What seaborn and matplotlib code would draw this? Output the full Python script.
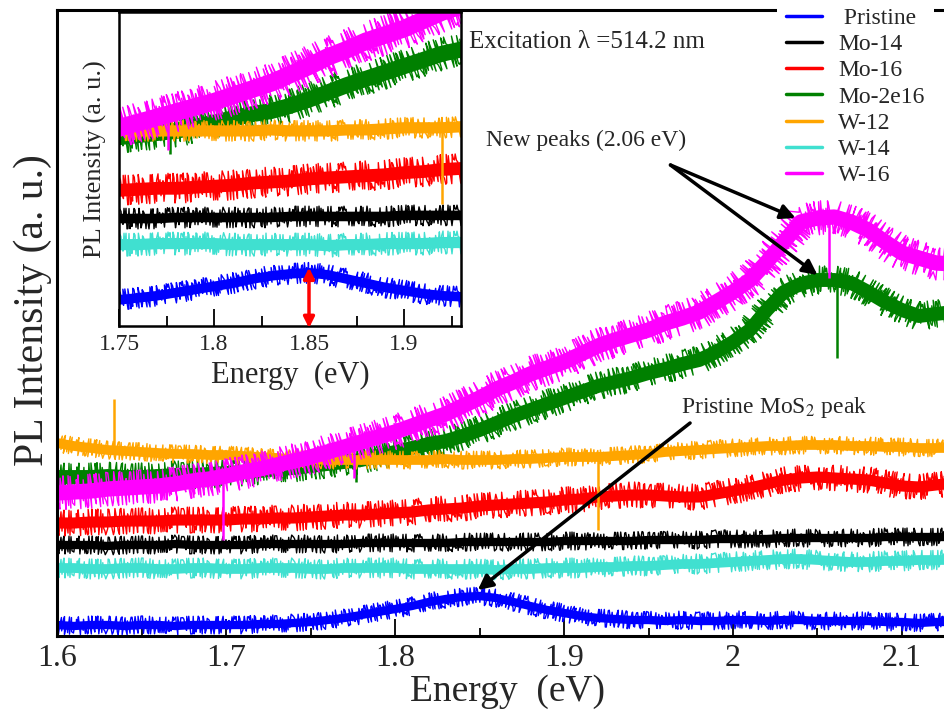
import matplotlib
matplotlib.use("Agg")
import matplotlib.pyplot as plt
import numpy as np
import pandas as pd
import seaborn as sns
from matplotlib.lines import Line2D
from matplotlib.ticker import MultipleLocator, FormatStrFormatter

# photon energy (eV), read every 0.01 eV off the picture
energy = [1.60, 1.61, 1.62, 1.63, 1.64, 1.65, 1.66, 1.67, 1.68, 1.69,
          1.70, 1.71, 1.72, 1.73, 1.74, 1.75, 1.76, 1.77, 1.78, 1.79,
          1.80, 1.81, 1.82, 1.83, 1.84, 1.85, 1.86, 1.87, 1.88, 1.89,
          1.90, 1.91, 1.92, 1.93, 1.94, 1.95, 1.96, 1.97, 1.98, 1.99,
          2.00, 2.01, 2.02, 2.03, 2.04, 2.05, 2.06, 2.07, 2.08, 2.09,
          2.10, 2.11, 2.12, 2.13]

# stacked PL intensity (a.u.), centre of each noisy trace
pristine = [11, 10, 11, 11, 10, 11, 11, 10, 11, 11,
            11, 11, 12, 12, 13, 14, 16, 18, 21, 24,
            27, 30, 34, 37, 39, 40, 38, 34, 30, 26,
            23, 20, 18, 17, 16, 16, 15, 16, 15, 15,
            16, 16, 15, 16, 16, 15, 15, 15, 15, 14,
            14, 13, 14, 14]
mo14 = [91, 91, 91, 90, 91, 91, 91, 92, 91, 91,
        91, 91, 92, 92, 92, 92, 92, 92, 93, 93,
        93, 93, 93, 93, 94, 94, 94, 94, 94, 94,
        95, 95, 95, 95, 95, 96, 96, 96, 96, 97,
        97, 97, 97, 98, 98, 98, 98, 98, 98, 99,
        99, 99, 99, 99]
mo16 = [113, 113, 114, 114, 115, 115, 115, 116, 116, 116,
        116, 117, 117, 118, 118, 119, 120, 121, 121, 122,
        123, 124, 126, 127, 128, 130, 131, 132, 133, 134,
        136, 137, 139, 140, 141, 141, 140, 139, 139, 142,
        145, 148, 152, 156, 158, 159, 158, 157, 156, 153,
        150, 149, 151, 153]
mo2e16 = [159, 159, 159, 160, 159, 159, 160, 161, 161, 162,
          163, 164, 165, 167, 168, 170, 172, 174, 176, 180,
          184, 188, 192, 195, 200, 206, 213, 220, 226, 232,
          238, 244, 250, 254, 258, 263, 267, 272, 276, 284,
          294, 306, 326, 344, 352, 356, 356, 353, 344, 334,
          326, 320, 322, 324]
w12 = [193, 190, 188, 186, 185, 184, 183, 182, 182, 181,
       181, 180, 179, 178, 177, 177, 176, 176, 176, 176,
       176, 176, 176, 177, 176, 176, 176, 177, 177, 178,
       179, 179, 179, 180, 181, 182, 184, 185, 186, 187,
       188, 189, 190, 190, 191, 191, 191, 190, 190, 189,
       189, 188, 188, 188]
w14 = [68, 68, 67, 67, 68, 68, 67, 67, 68, 68,
       67, 67, 68, 68, 68, 67, 67, 68, 68, 68,
       68, 67, 67, 67, 67, 67, 66, 67, 67, 68,
       68, 68, 69, 69, 70, 70, 71, 72, 72, 73,
       74, 75, 76, 77, 77, 76, 75, 74, 74, 75,
       75, 76, 76, 76]
w16 = [143, 144, 145, 147, 148, 149, 150, 152, 155, 157,
       160, 164, 167, 171, 175, 179, 184, 189, 194, 199,
       204, 210, 216, 222, 230, 238, 247, 254, 262, 268,
       274, 282, 290, 296, 301, 306, 313, 318, 324, 334,
       344, 356, 374, 394, 414, 418, 419, 414, 406, 394,
       383, 378, 373, 372]

samples = ['Pristine', 'Mo-14', 'Mo-16', 'Mo-2e16', 'W-12', 'W-14', 'W-16']
series = [pristine, mo14, mo16, mo2e16, w12, w14, w16]

# single-channel glitches seen in the traces
spike_sample = ['W-12', 'W-16', 'W-16', 'Mo-2e16', 'W-12', 'Mo-2e16', 'W-16']
spike_energy = [1.634, 1.698, 1.776, 1.777, 1.920, 2.0615, 2.057]
spike_level = [237, 96, 158, 154, 106, 278, 358]

colors = {'Pristine': '#0000ff', 'Mo-14': '#000000', 'Mo-16': '#ff0000',
          'Mo-2e16': '#008000', 'W-12': '#ffa500', 'W-14': '#40e0d0',
          'W-16': '#ff00ff'}
# solid core width (pt) and half-width of the noise band (px)
core = {'Pristine': 6, 'Mo-14': 6, 'Mo-16': 8, 'Mo-2e16': 10,
        'W-12': 7, 'W-14': 7, 'W-16': 11}
noise = {'Pristine': 9, 'Mo-14': 9, 'Mo-16': 13, 'Mo-2e16': 14,
         'W-12': 9, 'W-14': 10, 'W-16': 17}

df = pd.concat([pd.DataFrame({'energy': energy, 'intensity': s, 'sample': n})
                for n, s in zip(samples, series)], ignore_index=True)

sns.set_style('white')
plt.rcParams['font.family'] = ['Liberation Serif', 'DejaVu Serif']
plt.rcParams['mathtext.fontset'] = 'stix'


def draw_traces(ax, scale):
    for name in samples:
        d = df[df['sample'] == name]
        sns.lineplot(data=d, x='energy', y='intensity', color=colors[name],
                     lw=core[name] * scale, ax=ax, estimator=None, sort=False,
                     legend=False, solid_joinstyle='round')
        # jagged edge of the detector noise
        sns.lineplot(data=d, x='energy', y='intensity', color=colors[name],
                     lw=1.0, ax=ax, estimator=None, sort=False, legend=False)
        ax.lines[-1].set_sketch_params(noise[name] * scale, 2, 4)
        for sn, e, lv in zip(spike_sample, spike_energy, spike_level):
            if sn == name:
                base = np.interp(e, d['energy'], d['intensity'])
                ax.vlines(e, lv, base, color=colors[name], lw=1.8)


def style_axis(ax, lw, major, minor, fs, major_len, minor_len):
    for sp in ax.spines.values():
        sp.set_color('black')
        sp.set_linewidth(lw)
    ax.xaxis.set_major_locator(MultipleLocator(major))
    ax.xaxis.set_minor_locator(MultipleLocator(minor))
    ax.xaxis.set_major_formatter(FormatStrFormatter('%g'))
    ax.tick_params(axis='x', which='both', direction='in', bottom=True, top=False,
                   color='black', width=1.3, labelsize=fs, pad=6)
    ax.tick_params(axis='x', which='major', length=major_len)
    ax.tick_params(axis='x', which='minor', length=minor_len)
    ax.tick_params(axis='y', which='both', left=False, right=False, labelleft=False)


fig = plt.figure(figsize=(9.44, 7.13), dpi=100)

# main panel (runs past the right edge of the figure, like the original crop)
ax = fig.add_axes([57 / 944, 1 - 636 / 713, 929.5 / 944, 626 / 713])
draw_traces(ax, 1.0)
ax.set_xlim(1.6, 2.15)
ax.set_ylim(0, 626)
style_axis(ax, 2.2, 0.1, 0.05, 23, 12, 6)
ax.set_xlabel('Energy  (eV)', fontsize=27)
ax.set_ylabel('PL Intensity (a. u.)', fontsize=30)
ax.xaxis.set_label_coords(0.485, -0.062)
ax.yaxis.set_label_coords(-0.005, 0.52)

ax.text(1.844, 594, 'Excitation λ =514.2 nm', fontsize=18, va='center', ha='left')
ax.text(1.854, 496, 'New peaks (2.06 eV)', fontsize=17, va='center', ha='left')
ax.text(1.969, 228, 'Pristine MoS$_2$ peak', fontsize=17, va='center', ha='left')
arrow = dict(arrowstyle='-|>', color='black', lw=2.5, mutation_scale=22,
             shrinkA=0, shrinkB=0)
ax.annotate('', xy=(2.037, 418), xytext=(1.963, 471), arrowprops=arrow)
ax.annotate('', xy=(2.050, 361), xytext=(1.963, 471), arrowprops=arrow)
ax.annotate('', xy=(1.849, 46), xytext=(1.9746, 213), arrowprops=arrow)

handles = [Line2D([0], [0], color=colors[n], lw=2.5) for n in samples]
labels = [' Pristine'] + samples[1:]
ax.legend(handles, labels, loc='upper left', bbox_to_anchor=(777 / 944, 1.003),
          bbox_transform=fig.transFigure, fontsize=17, frameon=True,
          facecolor='white', edgecolor='none', framealpha=1, fancybox=False,
          borderpad=0.4, borderaxespad=0, labelspacing=0.2,
          handlelength=1.5, handletextpad=0.7)

# inset: zoom on the pristine peak region
axin = fig.add_axes([119 / 944, 1 - 326 / 713, 342 / 944, 314 / 713])
axin.set_facecolor('white')
draw_traces(axin, 1.15)
axin.set_xlim(1.75, 1.93)
axin.set_ylim(-11, 290)
style_axis(axin, 1.8, 0.05, 0.025, 17, 12, 7)
axin.set_xlabel('Energy  (eV)', fontsize=22)
axin.set_ylabel('PL Intensity (a. u.)', fontsize=19)
axin.xaxis.set_label_coords(0.5, -0.11)
axin.yaxis.set_label_coords(-0.035, 0.53)
axin.annotate('', xy=(1.85, 45), xytext=(1.85, -13),
              arrowprops=dict(arrowstyle='<|-|>', color='red', lw=2.5,
                              mutation_scale=16, shrinkA=0, shrinkB=0),
              annotation_clip=False)

fig.savefig('out.png', dpi=100)
